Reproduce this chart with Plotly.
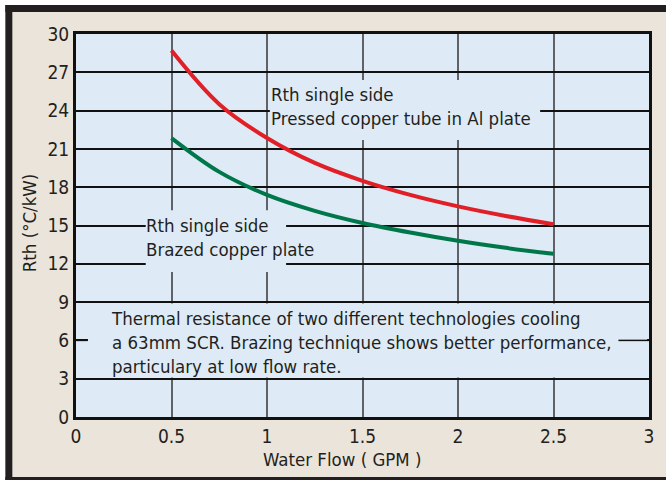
import plotly.graph_objects as go

# ---- data ----
flow = [0.5, 0.75, 1.0, 1.25, 1.5, 1.75, 2.0, 2.25, 2.5]
rth_pressed = [28.7, 24.5, 21.85, 19.9, 18.5, 17.4, 16.5, 15.75, 15.1]
rth_brazed = [21.85, 19.2, 17.4, 16.15, 15.2, 14.45, 13.8, 13.25, 12.78]
x_ticks = [0, 0.5, 1, 1.5, 2, 2.5, 3]
x_tick_labels = ["0", "0.5", "1", "1.5", "2", "2.5", "3"]
y_ticks = [0, 3, 6, 9, 12, 15, 18, 21, 24, 27, 30]
label_pressed = ["Rth single side", "Pressed copper tube in Al plate"]
label_brazed = ["Rth single side", "Brazed copper plate"]
note_lines = [
    "Thermal resistance of two different technologies cooling",
    "a 63mm SCR. Brazing technique shows better performance,",
    "particulary at low flow rate.",
]
x_title = "Water Flow ( GPM )"
y_title = "Rth (°C/kW)"

# ---- style ----
W, H = 666, 480
L, R, T, B = 76, 652, 34, 417
FONT = "DejaVu Sans Condensed, Liberation Sans Narrow, sans-serif"
TXT = "#231f20"
PLOTBG = "#deebf6"
PAPER = "#ebe4da"
DARK = "#231f20"
FS = 18.5


def px(xp):
    return (xp - L) / (R - L)


def py(yp):
    return (B - yp) / (B - T)


fig = go.Figure()
fig.add_trace(go.Scatter(x=flow, y=rth_pressed, mode="lines",
                         line=dict(color="#e11f26", width=4, shape="spline"),
                         hoverinfo="skip", showlegend=False))
fig.add_trace(go.Scatter(x=flow, y=rth_brazed, mode="lines",
                         line=dict(color="#00774a", width=4, shape="spline"),
                         hoverinfo="skip", showlegend=False))

shapes = []
# frame strips (outside plot area)
for (x0, x1, y0, y1, c) in [
    (-10, 5, -10, 500, "white"),
    (-10, 700, -10, 5, "white"),
    (5, 12, 5, 500, DARK),
    (5, 700, 5, 12, DARK),
    (5, 700, 477, 500, DARK),
]:
    shapes.append(dict(type="rect", xref="paper", yref="paper",
                       x0=px(x0), x1=px(x1), y0=py(y1), y1=py(y0),
                       fillcolor=c, line=dict(width=0), layer="below"))

# boxes that mask the grid behind the texts
for (x0, x1, y0, y1) in [
    (1.015, 2.43, 21.7, 26.4),
    (0.365, 1.10, 11.35, 16.2),
    (0.0625, 2.99, 3.1, 8.9),
]:
    shapes.append(dict(type="rect", xref="x", yref="y", x0=x0, x1=x1, y0=y0, y1=y1,
                       fillcolor=PLOTBG, line=dict(width=0), layer="between"))
# grid stubs at y=6 beside the note
for (x0, x1) in [(0, 0.06), (2.84, 3)]:
    shapes.append(dict(type="line", xref="x", yref="y", x0=x0, x1=x1, y0=6, y1=6,
                       line=dict(color="#111111", width=1.5), layer="between"))

annotations = []


def add_block(lines, xp, yc):
    annotations.append(dict(text="<br>".join(lines), xref="paper", yref="paper",
                            x=px(xp), y=py(yc), xanchor="left", yanchor="middle",
                            align="left", showarrow=False,
                            font=dict(family=FONT, size=FS, color=TXT)))


add_block(label_pressed, 270, 106.5)
add_block(label_brazed, 144, 237.5)
add_block(note_lines, 109, 342.5)

annotations.append(dict(text=x_title, xref="paper", yref="paper",
                        x=px(343.5), y=py(459), xanchor="center", yanchor="middle",
                        showarrow=False, font=dict(family=FONT, size=FS, color=TXT)))
annotations.append(dict(text=y_title, xref="paper", yref="paper",
                        x=px(29), y=py(223), xanchor="center", yanchor="middle",
                        textangle=-90, showarrow=False,
                        font=dict(family=FONT, size=FS, color=TXT)))

fig.update_layout(
    width=W, height=H,
    margin=dict(l=L, r=W - R, t=T, b=H - B, pad=0),
    paper_bgcolor=PAPER, plot_bgcolor=PLOTBG,
    shapes=shapes, annotations=annotations,
    font=dict(family=FONT, color=TXT, size=FS),
    xaxis=dict(range=[0, 3], tickvals=x_ticks, ticktext=x_tick_labels,
               showgrid=True, gridcolor="#5f6266", gridwidth=2,
               zeroline=False, showline=True, linecolor="#111111", linewidth=3,
               mirror=True, ticks="", tickfont=dict(family=FONT, size=19, color=TXT),
               fixedrange=True),
    yaxis=dict(range=[0, 30], tickvals=y_ticks,
               showgrid=True, gridcolor="#111111", gridwidth=1.5,
               zeroline=False, showline=True, linecolor="#111111", linewidth=3,
               mirror=True, ticks="", tickfont=dict(family=FONT, size=19, color=TXT),
               ticklabelstandoff=0, fixedrange=True),
)

fig.write_html("out.html", config={"displayModeBar": False},
               post_script="document.body.style.margin='0';document.body.style.overflow='hidden';")
